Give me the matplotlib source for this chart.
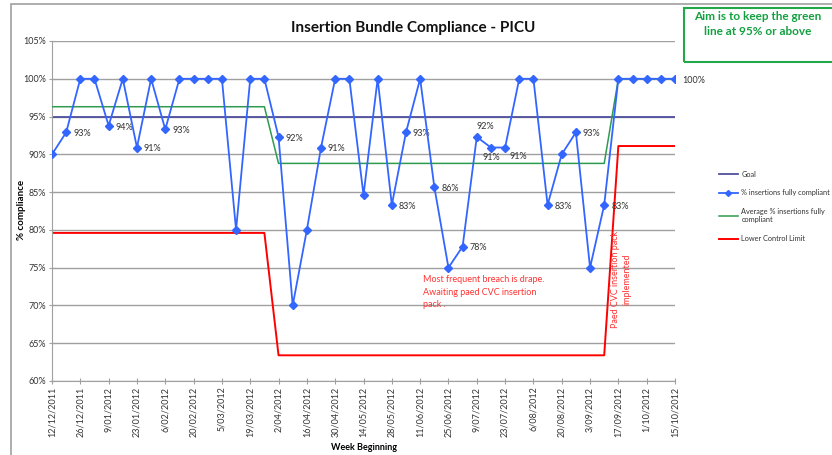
import numpy as np
import matplotlib
matplotlib.use("Agg")
import matplotlib.pyplot as plt
from matplotlib.patches import Rectangle
from matplotlib.lines import Line2D

plt.rcParams['font.family'] = ['Lato', 'DejaVu Sans']

# weekly compliance (%), week beginning 12/12/2011 .. 15/10/2012
compliance = [90, 92.9, 100, 100, 93.8, 100, 90.9, 100, 93.3, 100, 100, 100, 100, 80, 100, 100,
              92.3, 70, 80, 90.9, 100, 100, 84.6, 100, 83.3, 92.9, 100, 85.7, 75, 77.8, 92.3, 90.9,
              90.9, 100, 100, 83.3, 90, 92.9, 75, 83.3,
              100, 100, 100, 100, 100]
goal = 95
# phase averages / lower control limits (16 weeks, 24 weeks, 5 weeks)
phase_weeks = [16, 24, 5]
phase_avg = [96.3, 88.8, 100]
phase_lcl = [79.6, 63.4, 91.1]

tick_labels = ["12/12/2011", "26/12/2011", "9/01/2012", "23/01/2012", "6/02/2012", "20/02/2012",
               "5/03/2012", "19/03/2012", "2/04/2012", "16/04/2012", "30/04/2012", "14/05/2012",
               "28/05/2012", "11/06/2012", "25/06/2012", "9/07/2012", "23/07/2012", "6/08/2012",
               "20/08/2012", "3/09/2012", "17/09/2012", "1/10/2012", "15/10/2012"]

# which points get a data label, and where
label_pos = {1: 'r', 4: 'r', 6: 'r', 8: 'r', 16: 'r', 19: 'r', 24: 'r', 25: 'r', 27: 'r',
             29: 'r', 30: 'a', 31: 'b', 32: 'br', 35: 'r', 37: 'r', 39: 'r', 44: 'r'}

x = np.arange(len(compliance))
avg_line = np.repeat(phase_avg, phase_weeks)
lcl_line = np.repeat(phase_lcl, phase_weeks)

W, H = 832, 455
fig = plt.figure(figsize=(W / 100, H / 100), dpi=100)
ax = fig.add_axes([52 / W, 1 - 381 / H, (675 - 52) / W, (381 - 41) / H])

# outer chart frame
fig.patches.append(Rectangle((11 / W, -0.1), 1.2, 1 - 4 / H + 0.1, transform=fig.transFigure,
                             fill=False, edgecolor='#a0a0a0', lw=1.2))

for v in range(60, 106, 5):
    ax.axhline(v, color='#a0a0a0', lw=1, zorder=1)

ax.plot(x, [goal] * len(x), color='#5050a0', lw=1.3, zorder=2, label='Goal')
ax.plot(x, lcl_line, color='#ff0000', lw=1.4, zorder=2)
ax.plot(x, avg_line, color='#2e9b4e', lw=1.1, zorder=3)
ax.plot(x, compliance, color='#3366ff', lw=1.3, marker='D', ms=4.2, zorder=4)

for i, p in label_pos.items():
    v = compliance[i]
    txt = f"{v:.0f}%"
    if p == 'r':
        ax.annotate(txt, (i, v), xytext=(5, -1), textcoords='offset points', ha='left', va='center',
                    fontsize=6.5, color='#333333')
    elif p == 'a':
        ax.annotate(txt, (i, v), xytext=(0, 4), textcoords='offset points', ha='left', va='bottom',
                    fontsize=6.5, color='#333333')
    elif p == 'b':
        ax.annotate(txt, (i, v), xytext=(0, -4), textcoords='offset points', ha='center', va='top',
                    fontsize=6.5, color='#333333')
    else:
        ax.annotate(txt, (i, v), xytext=(3, -3), textcoords='offset points', ha='left', va='top',
                    fontsize=6.5, color='#333333')

ax.set_xlim(0, len(x) - 1)
ax.set_ylim(60, 105)
ax.set_yticks(range(60, 106, 5))
ax.set_yticklabels([f"{v}%" for v in range(60, 106, 5)], fontsize=6.5, color='#333333')
ax.set_xticks(x[::2])
ax.set_xticklabels(tick_labels, rotation=90, fontsize=6.5, color='#333333')
ax.tick_params(axis='both', direction='inout', length=4, color='#a0a0a0', pad=2)
for s in ['top', 'right']:
    ax.spines[s].set_visible(False)
for s in ['left', 'bottom']:
    ax.spines[s].set_color('#a0a0a0')

ax.set_ylabel('% compliance', fontsize=7, fontweight='bold')
ax.yaxis.set_label_coords((26 - 52) / (675 - 52), (381 - 210) / (381 - 41))
fig.text(364 / W, 1 - 447 / H, 'Week Beginning', fontsize=6.5, fontweight='bold', ha='center', va='center')
fig.text(413 / W, 1 - 28 / H, 'Insertion Bundle Compliance - PICU', fontsize=11, fontweight='bold',
         ha='center', va='center', color='#111111')

ax.text(26.2, 74.0, 'Most frequent breach is drape.\nAwaiting paed CVC insertion\npack .', fontsize=6.5,
        color='#ff3333', ha='left', va='top', linespacing=1.5)
ax.text(40.2, 73.5, 'Paed CVC insertion pack\nimplemented', fontsize=6.5, color='#ff3333', rotation=90,
        ha='center', va='center', linespacing=1.4)

# aim box
fig.patches.append(Rectangle((684 / W, 1 - 62 / H), 0.3, 54 / H, transform=fig.transFigure,
                             fill=False, edgecolor='#22a84a', lw=1.5))
fig.text(758 / W, 1 - 24 / H, 'Aim is to keep the green\nline at 95% or above', fontsize=8.5,
         fontweight='bold', color='#13a040', ha='center', va='center', linespacing=1.4)

handles = [Line2D([], [], color='#5050a0', lw=1.3),
           Line2D([], [], color='#3366ff', lw=1.3, marker='D', ms=3),
           Line2D([], [], color='#2e9b4e', lw=1.1),
           Line2D([], [], color='#ff0000', lw=1.4)]
labels = ['Goal', '% insertions fully compliant', 'Average % insertions fully\ncompliant',
          'Lower Control Limit']
fig.legend(handles, labels, loc='upper left', bbox_to_anchor=(712 / W, 1 - 164 / H), frameon=False,
           fontsize=5.3, handlelength=2.6, labelspacing=1.6, handletextpad=0.5, labelcolor='#333333')

fig.savefig('out.png', dpi=100)
